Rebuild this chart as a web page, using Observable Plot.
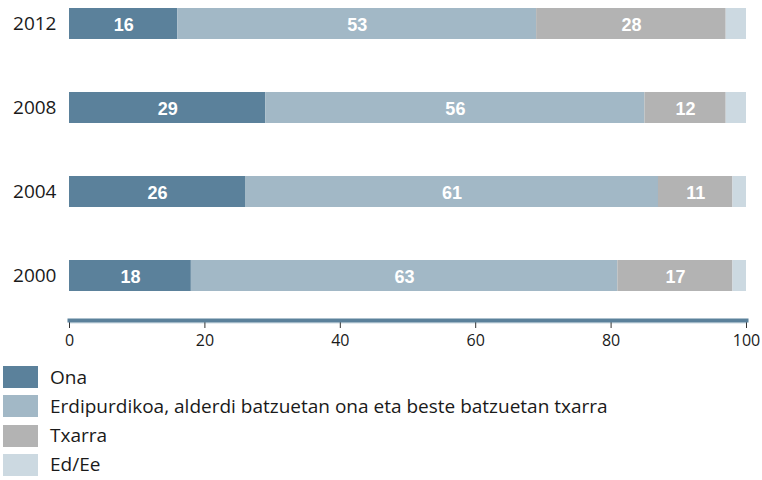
<!DOCTYPE html>
<html>
<head>
<meta charset="utf-8">
<script src="https://cdn.jsdelivr.net/npm/d3@7"></script>
<script src="https://cdn.jsdelivr.net/npm/@observablehq/plot@0.6"></script>
<style>
  body { margin: 0; background: #fff; font-family: "Open Sans", sans-serif; overflow: hidden; }
  #legend { margin-top: 10px; }
  .row { display: flex; align-items: center; height: 22px; margin-bottom: 7.3px; }
  .sw { width: 35px; height: 22px; margin-left: 3px; margin-right: 12px; }
  .lab { font-size: 19px; color: #1a1a1a; line-height: 1; }
</style>
</head>
<body>
<div id="chart"></div>
<div id="legend"></div>
<script>
const years = ["2012", "2008", "2004", "2000"];
const categories = ["Ona", "Erdipurdikoa, alderdi batzuetan ona eta beste batzuetan txarra", "Txarra", "Ed/Ee"];
const colors = ["#5b819b", "#a2b8c6", "#b3b3b3", "#ccd9e1"];
const ona = [16, 29, 26, 18];
const erdipurdikoa = [53, 56, 61, 63];
const txarra = [28, 12, 11, 17];
const eded = [3, 3, 2, 2];
const xTicks = [0, 20, 40, 60, 80, 100];

const series = [ona, erdipurdikoa, txarra, eded];
const data = [];
years.forEach((y, i) => {
  series.forEach((s, j) => {
    data.push({year: y, cat: categories[j], value: s[i]});
  });
});

const chart = Plot.plot({
  width: 762,
  height: 356,
  marginLeft: 69,
  marginRight: 16,
  marginTop: 0,
  marginBottom: 36,
  style: {fontFamily: "Open Sans, sans-serif", background: "#fff"},
  x: {domain: [0, 100], label: null},
  y: {domain: years, range: [0, 298], paddingInner: 0.632, paddingOuter: 0.083, label: null},
  color: {domain: categories, range: colors},
  marks: [
    Plot.barX(data, Plot.stackX({x: "value", y: "year", fill: "cat", order: null})),
    Plot.text(data, Plot.stackX({
      x: "value", y: "year", z: "cat", order: null,
      text: d => d.cat === "Ed/Ee" ? "" : String(d.value),
      fill: "white", fontWeight: "bold", fontSize: 18, dy: 1,
      fontFamily: "Liberation Sans, Arial, sans-serif"
    })),
    Plot.frame({anchor: "bottom", stroke: "#ccd9e1", strokeWidth: 1, dy: 2.5}),
    Plot.axisX({ticks: xTicks, tickSize: 8, tickPadding: 6, fontSize: 16, stroke: "#333", color: "#1a1a1a", label: null, tickFormat: d => String(d)}),
    Plot.frame({anchor: "bottom", stroke: "#5b819b", strokeWidth: 4}),
    Plot.axisY({tickSize: 0, tickPadding: 13, fontSize: 19, color: "#1a1a1a", label: null})
  ]
});
document.getElementById("chart").appendChild(chart);

const legend = document.getElementById("legend");
categories.forEach((c, i) => {
  const row = document.createElement("div");
  row.className = "row";
  const sw = document.createElement("div");
  sw.className = "sw";
  sw.style.background = colors[i];
  const lab = document.createElement("span");
  lab.className = "lab";
  lab.textContent = c;
  row.appendChild(sw);
  row.appendChild(lab);
  legend.appendChild(row);
});
</script>
</body>
</html>
